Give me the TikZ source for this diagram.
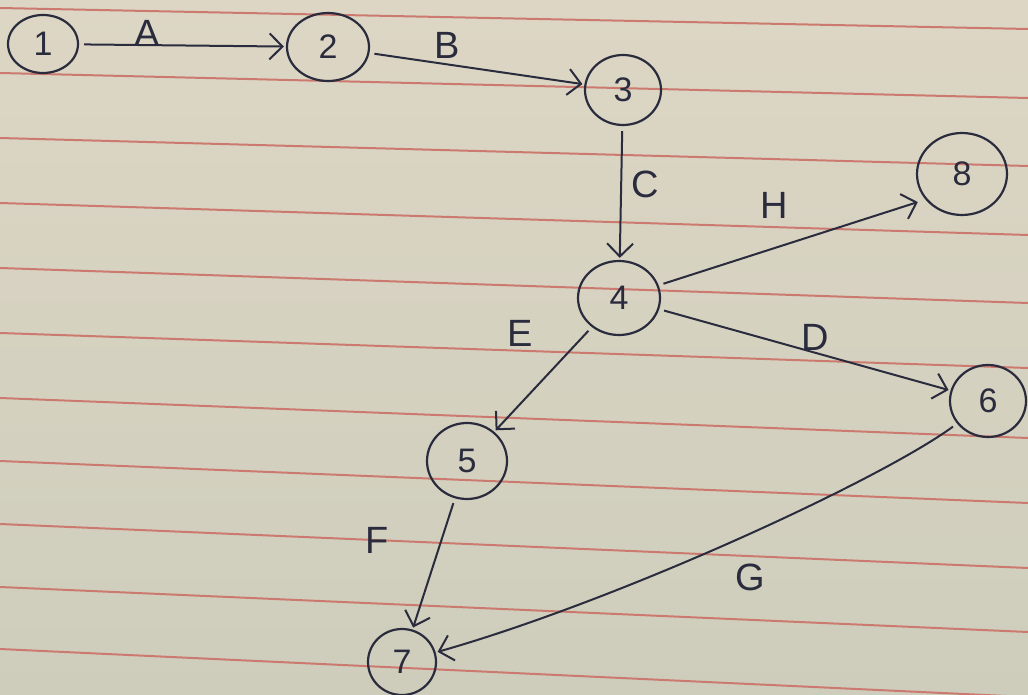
\documentclass[tikz,border=0pt]{standalone}
\usepackage{fontspec}
\setmainfont{Liberation Sans}
\usetikzlibrary{shapes.geometric,arrows.meta}
\definecolor{papertop}{RGB}{221,214,196}
\definecolor{paperbot}{RGB}{206,205,188}
\definecolor{rule}{RGB}{204,122,112}
\definecolor{ink}{RGB}{42,44,62}
\tikzset{
  state/.style={draw=ink, line width=2.2pt, ellipse, inner sep=0pt, text=ink,
    font=\fontsize{34}{36}\selectfont},
  edge/.style={draw=ink, line width=2pt, -{Straight Barb[length=13pt,width=26pt,line width=2pt]},
    shorten <=5pt, shorten >=2pt},
  lbl/.style={text=ink, font=\fontsize{38}{40}\selectfont, inner sep=0pt},
  ruling/.style={draw=rule, line width=2pt}
}
\begin{document}
\begin{tikzpicture}[x=1pt,y=-1pt]
\useasboundingbox (0,0) rectangle (1028,695);
\shade[top color=papertop, bottom color=paperbot] (0,0) rectangle (1028,695);
% ruled lines of the paper
\foreach \l/\r in {8/29,73/98,138/166,203/235,268/303,333/368,398/438,461/503,524/568,587/632,649/697}
  \draw[ruling] (0,\l) -- (1028,\r);
% nodes
\node[state, minimum width=70pt, minimum height=58pt] (n1) at (43,44) {1};
\node[state, minimum width=82pt, minimum height=68pt] (n2) at (328,47) {2};
\node[state, minimum width=76pt, minimum height=70pt] (n3) at (623,90) {3};
\node[state, minimum width=82pt, minimum height=74pt] (n4) at (619,298) {4};
\node[state, minimum width=90pt, minimum height=82pt] (n8) at (962,174) {8};
\node[state, minimum width=76pt, minimum height=72pt] (n6) at (988,401) {6};
\node[state, minimum width=80pt, minimum height=76pt] (n5) at (467,461) {5};
\node[state, minimum width=68pt, minimum height=66pt] (n7) at (402,662) {7};
% edges
\draw[edge] (n1) -- (n2);
\draw[edge] (n2) -- (n3);
\draw[edge] (n3) -- (n4);
\draw[edge, shorten >=8pt] (n4) -- (n8.215);
\draw[edge] (n4) -- (n6);
\draw[edge] (n4) -- (n5);
\draw[edge] (n5) -- (n7);
\draw[edge] (n6) .. controls (880,480) and (620,600) .. (n7);
% labels
\node[lbl] (la) at (147,33) {A};
\node[lbl] (lb) at (447,45) {B};
\node[lbl] (lc) at (645,184) {C};
\node[lbl] (lh) at (774,205) {H};
\node[lbl] (ld) at (815,337) {D};
\node[lbl] (le) at (520,333) {E};
\node[lbl] (lf) at (377,540) {F};
\node[lbl] (lg) at (750,577) {G};
\end{tikzpicture}
\end{document}
